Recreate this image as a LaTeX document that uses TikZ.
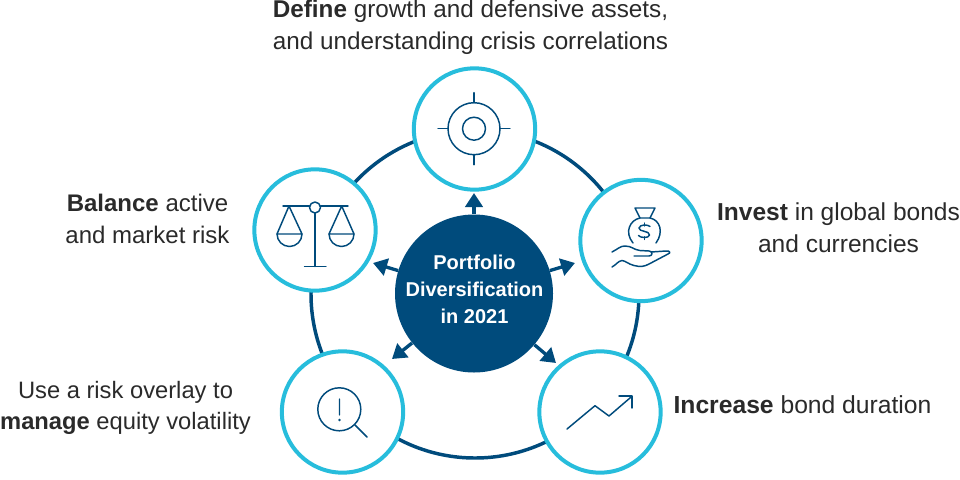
\documentclass[tikz,border=0pt]{standalone}
\usepackage{fontspec}
\setmainfont{Liberation Sans}
\usetikzlibrary{arrows.meta}
\definecolor{navy}{HTML}{004B7C}
\definecolor{aqua}{HTML}{27BDDC}
\definecolor{ink}{HTML}{2A2A2A}
\tikzset{
  x=0.75pt,y=-0.75pt,
  ringline/.style={draw=navy,line width=2.6pt,circle,inner sep=0pt,minimum size=246pt},
  spoke/.style={draw=navy,fill=none,line width=2.5pt,-{Triangle[length=10.5pt,width=13pt,fill=navy]}},
  hubnode/.style={circle,fill=navy,inner sep=0pt,minimum size=118.5pt},
  hubtext/.style={text=white,align=center,inner sep=0pt,font=\fontsize{15}{20.2}\selectfont\bfseries},
  petal/.style={circle,draw=aqua,fill=white,line width=3pt,inner sep=0pt,minimum size=91pt},
  caption/.style={text=ink,align=center,inner sep=0pt},
  icon/.style={draw=navy,line width=1.1pt,line cap=round,line join=round}
}
\begin{document}
\begin{tikzpicture}
\useasboundingbox (0,0) rectangle (960,479);
\node[ringline] (ring) at (475,294) {};
\coordinate (tipT) at (474,193);
\coordinate (tipL) at (373,263);
\coordinate (tipR) at (575,263);
\coordinate (tipBL) at (392,359);
\coordinate (tipBR) at (556,363);
\node[petal] (top) at (474.5,129) {};
\node[petal] (left) at (315,230) {};
\node[petal] (right) at (641,240.5) {};
\node[petal] (bl) at (342.5,412) {};
\node[petal] (br) at (600,412) {};
\node[hubnode] (hub) at (474,293.5) {};
\node[hubtext] (hubt) at (474.5,289) {Portfolio\\Diversification\\in 2021};
\foreach \t in {tipT,tipL,tipR,tipBL,tipBR} \draw[spoke] (hub) -- (\t);
% captions
\node[caption,font=\fontsize{18.2}{23.6}\selectfont] (capT) at (470.5,27) {\textbf{Define} growth and defensive assets,\\and understanding crisis correlations};
\node[caption,font=\fontsize{18}{23.8}\selectfont] (capL) at (147.5,219) {\textbf{Balance} active\\and market risk};
\node[caption,font=\fontsize{18.4}{23.6}\selectfont] (capR) at (838.5,227.5) {\textbf{Invest} in global bonds\\and currencies};
\node[caption,font=\fontsize{17.8}{23.8}\selectfont] (capBL) at (125.5,408) {Use a risk overlay to\\\textbf{manage} equity volatility};
\node[caption,font=\fontsize{18.5}{23.6}\selectfont] (capBR) at (802.5,405) {\textbf{Increase} bond duration};
% target icon
\draw[icon] (474,128.7) circle[radius=26] (474,128.7) circle[radius=11.5];
\draw[icon] (474,92.7)--(474,102.7) (474,154.7)--(474,164.7) (438,128.7)--(448,128.7) (500,128.7)--(510,128.7);
% scales icon
\draw[icon] (283,206)--(309.5,206) (320.5,206)--(348,206);
\draw[icon] (315,207.5) circle[radius=5.5];
\draw[icon] (315,213)--(315,266.5) (304.5,266.5)--(326,266.5);
\draw[icon] (289,206)--(277,234)--(302,234)--cycle;
\draw[icon] (277,234) arc[start angle=180,end angle=0,radius=12.5];
\draw[icon] (341.7,206)--(329,234)--(354,234)--cycle;
\draw[icon] (329,234) arc[start angle=180,end angle=0,radius=12.5];
% money icon
\draw[icon] (640,218)--(635,208)--(655,208)--(650,218)--cycle;
\draw[icon] (640,218) .. controls (630,220) and (624,232) .. (633,243);
\draw[icon] (650,218) .. controls (660,220) and (664,232) .. (656,243);
\draw[icon] (650,226.5) .. controls (648,224.5) and (640,224) .. (639,228) .. controls (638.5,232) and (650,230.5) .. (649.5,235) .. controls (649,238.5) and (640,238) .. (638.5,235.5);
\draw[icon] (644.3,223)--(644.3,226) (644.3,236.8)--(644.3,239.5);
\draw[icon] (612,252) .. controls (618,249) and (620,246) .. (625,246) .. controls (632,246) and (634,250) .. (640,250.5) -- (649,251) .. controls (653,251) and (653,256) .. (649,256) -- (634,256);
\draw[icon] (651,252) -- (666,251) .. controls (670,250.5) and (671,253) .. (668,254) -- (650,263.5) .. controls (644,267) and (640,267) .. (634,265.5) .. controls (628,264) and (626,261) .. (622,260.5) .. controls (618,261) and (616,265) .. (612,267);
% magnifier icon
\draw[icon] (339.3,409.3) circle[radius=21.5];
\draw[icon] (355,425)--(367,437) (339.5,399)--(339.5,415);
\fill[navy] (339.5,420) circle[radius=1.4];
% chart icon
\draw[icon] (567,429)--(595,405.7)--(609,416)--(631.7,396.5);
\draw[icon] (619,396)--(632,396)--(632,408);
\end{tikzpicture}
\end{document}
